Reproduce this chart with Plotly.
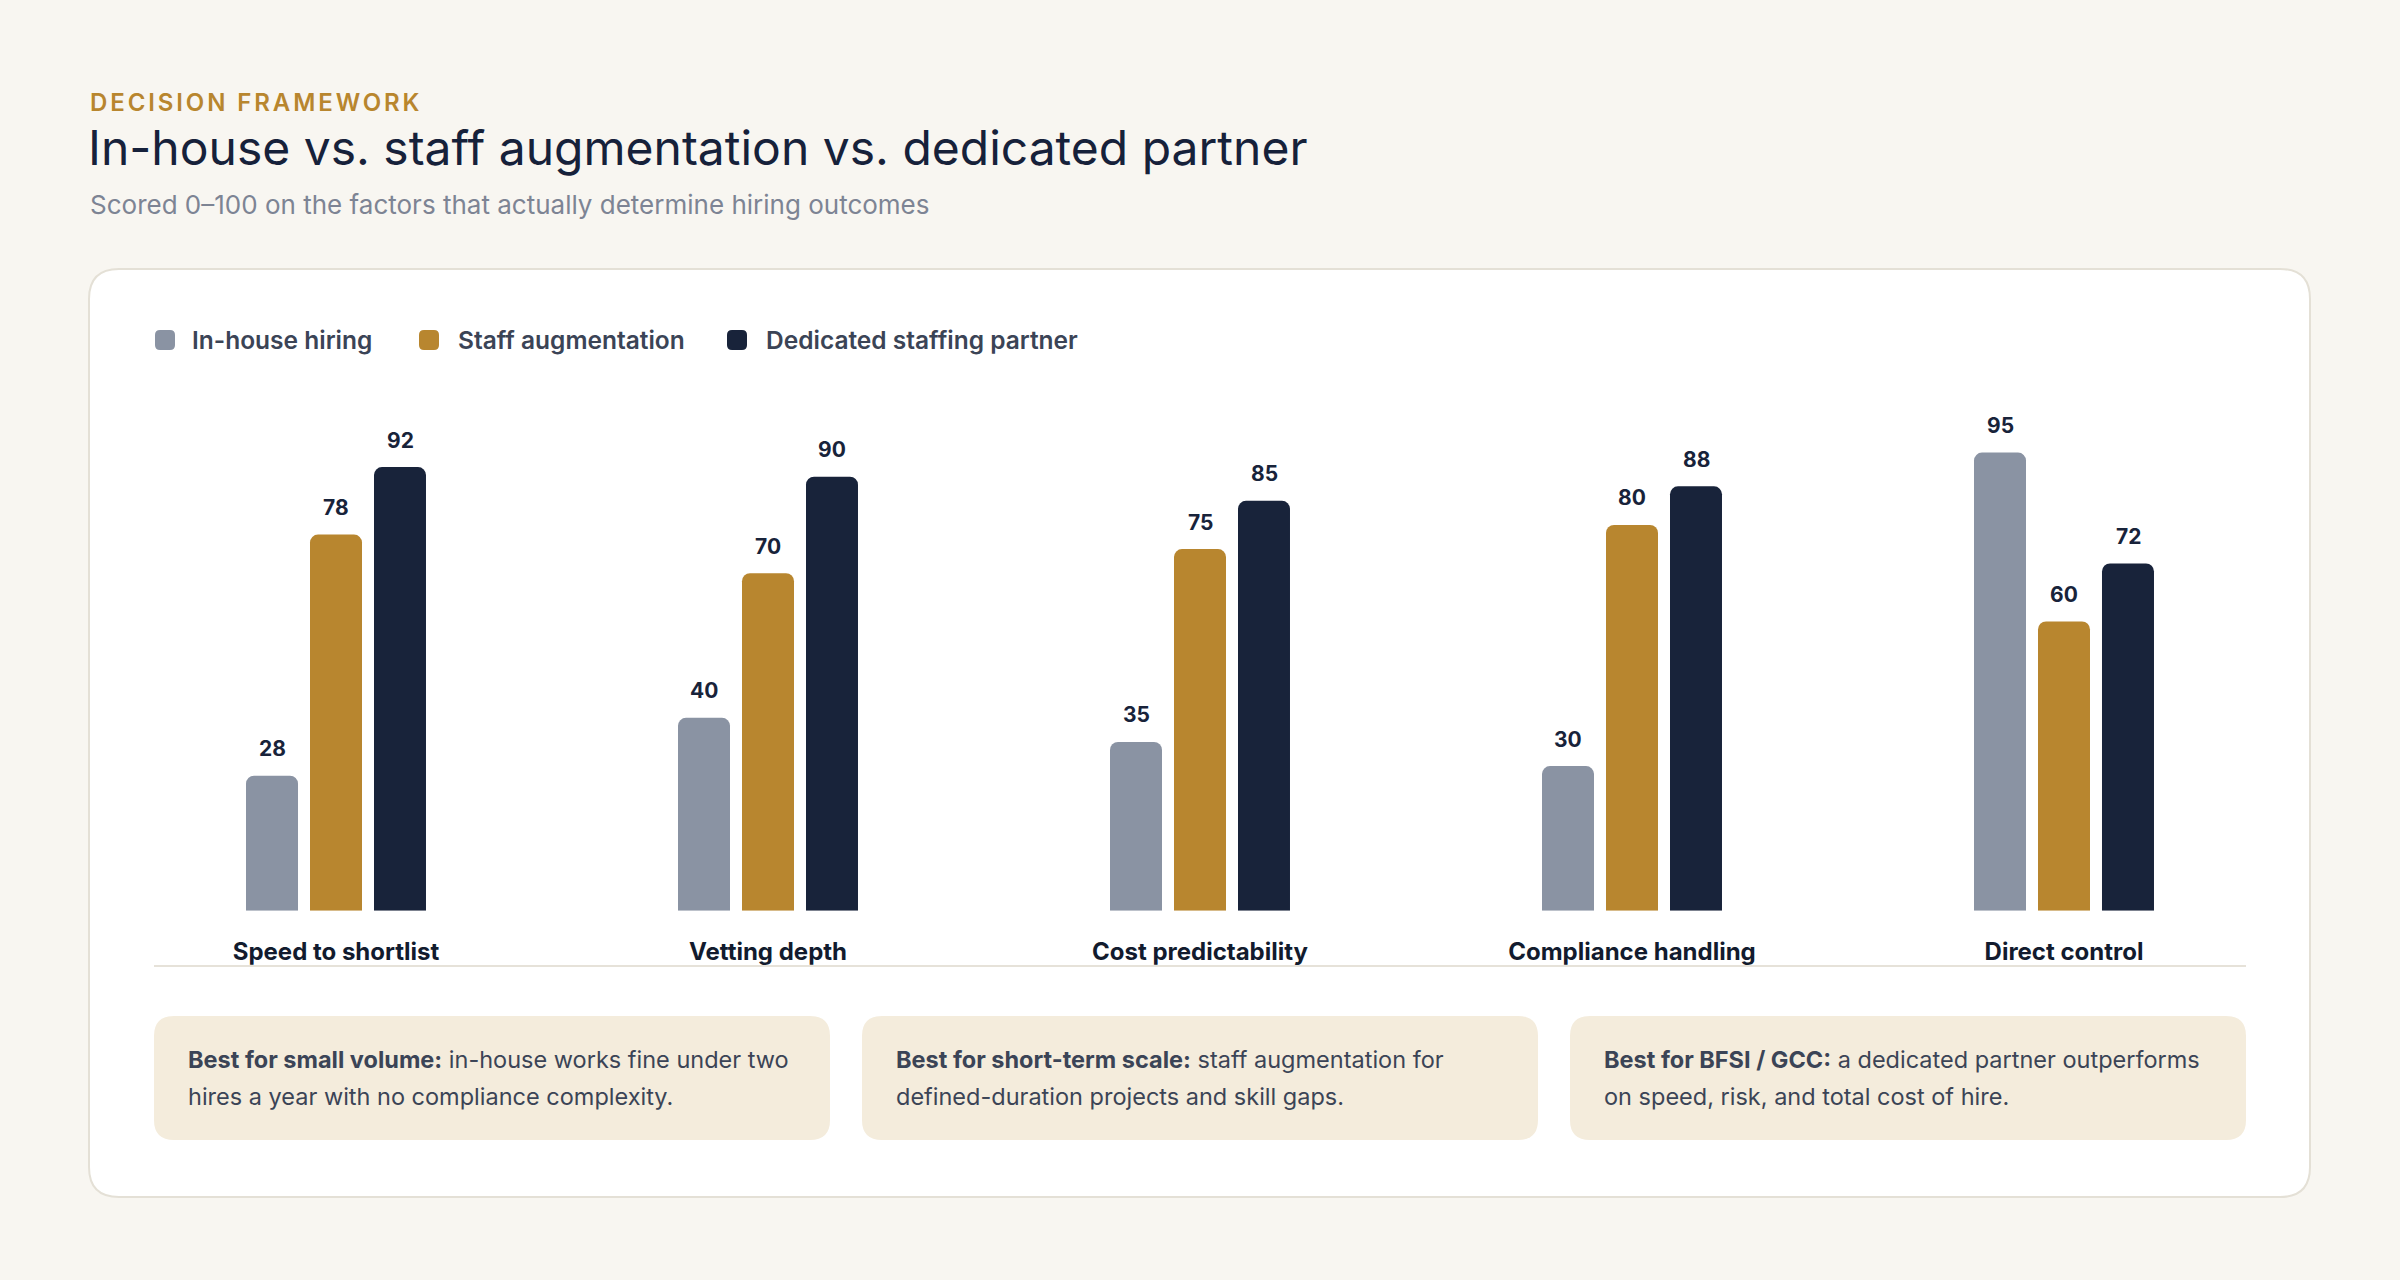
import plotly.graph_objects as go

W, H = 2400, 1280

# ---------------- data ----------------
categories = ["Speed to shortlist", "Vetting depth", "Cost predictability",
              "Compliance handling", "Direct control"]
series_names = ["In-house hiring", "Staff augmentation", "Dedicated staffing partner"]
in_house = [28, 40, 35, 30, 95]
staff_aug = [78, 70, 75, 80, 60]
dedicated = [92, 90, 85, 88, 72]
series_values = [in_house, staff_aug, dedicated]

eyebrow = "DECISION FRAMEWORK"
title = "In-house vs. staff augmentation vs. dedicated partner"
subtitle = "Scored 0–100 on the factors that actually determine hiring outcomes"

card_leads = ["Best for small volume:", "Best for short-term scale:", "Best for BFSI / GCC:"]
card_lines = [
    ["in-house works fine under two", "hires a year with no compliance complexity."],
    ["staff augmentation for", "defined-duration projects and skill gaps."],
    ["a dedicated partner outperforms", "on speed, risk, and total cost of hire."],
]

# ---------------- style ----------------
series_colors = ["#8A93A3", "#B8862F", "#18233A"]
BG = "#F8F6F1"
FONT = "Inter"
NAVY = "#16213A"
SLATE = "#3B4456"


def fx(x):
    return x / W


def fy(y):
    return 1 - y / H


def rrect(x0, y0, x1, y1, r):
    return (f"M{fx(x0 + r)},{fy(y0)} L{fx(x1 - r)},{fy(y0)} "
            f"Q{fx(x1)},{fy(y0)} {fx(x1)},{fy(y0 + r)} "
            f"L{fx(x1)},{fy(y1 - r)} Q{fx(x1)},{fy(y1)} {fx(x1 - r)},{fy(y1)} "
            f"L{fx(x0 + r)},{fy(y1)} Q{fx(x0)},{fy(y1)} {fx(x0)},{fy(y1 - r)} "
            f"L{fx(x0)},{fy(y0 + r)} Q{fx(x0)},{fy(y0)} {fx(x0 + r)},{fy(y0)} Z")


fig = go.Figure()
for name, vals, col in zip(series_names, series_values, series_colors):
    fig.add_trace(go.Bar(
        x=categories, y=vals, name=name,
        marker=dict(color=col, cornerradius=8, line=dict(width=0)),
        showlegend=False, hoverinfo="skip",
    ))

shapes = []
# outer white card
shapes.append(dict(type="path", xref="paper", yref="paper", layer="below",
                   path=rrect(89, 269, 2310, 1197, 30),
                   fillcolor="#FFFFFF", line=dict(color="#E4E0D6", width=2)))
# baseline rule under category labels
shapes.append(dict(type="line", xref="paper", yref="paper", layer="below",
                   x0=fx(154), x1=fx(2246), y0=fy(966), y1=fy(966),
                   line=dict(color="#E6E2D9", width=2)))

annotations = []
# header
annotations.append(dict(xref="paper", yref="paper", x=fx(88), y=fy(102), xanchor="left",
                        yanchor="middle", showarrow=False,
                        text=f'<span style="letter-spacing:2.9px">{eyebrow}</span>',
                        font=dict(family=FONT, size=24, color="#B8862E", weight=600)))
annotations.append(dict(xref="paper", yref="paper", x=fx(86), y=fy(147), xanchor="left",
                        yanchor="middle", showarrow=False, text=title,
                        font=dict(family=FONT, size=48, color=NAVY, weight=400)))
annotations.append(dict(xref="paper", yref="paper", x=fx(88), y=fy(204), xanchor="left",
                        yanchor="middle", showarrow=False, text=subtitle,
                        font=dict(family=FONT, size=26, color="#7D8494", weight=400)))

# legend (manual)
legend_sq_x = [155, 419, 727]
legend_tx_x = [190, 456, 764]
for name, col, sx, tx in zip(series_names, series_colors, legend_sq_x, legend_tx_x):
    shapes.append(dict(type="path", xref="paper", yref="paper",
                       path=rrect(sx, 330, sx + 20, 350, 5),
                       fillcolor=col, line=dict(width=0)))
    annotations.append(dict(xref="paper", yref="paper", x=fx(tx), y=fy(340),
                            xanchor="left", yanchor="middle", showarrow=False,
                            text=name,
                            font=dict(family=FONT, size=24.5, color=SLATE, weight=600)))

# value labels
for j, vals in enumerate(series_values):
    for cat, v in zip(categories, vals):
        annotations.append(dict(xref="x", yref="y", x=cat, y=v, xshift=(j - 1) * 64,
                                yshift=27, yanchor="middle", showarrow=False,
                                text=str(v),
                                font=dict(family=FONT, size=21, color="#18233A", weight=700)))

# bottom cards
card_w, card_gap = 676, 32
for i, (lead, lines) in enumerate(zip(card_leads, card_lines)):
    x0 = 154 + i * (card_w + card_gap)
    shapes.append(dict(type="path", xref="paper", yref="paper", layer="below",
                       path=rrect(x0, 1016, x0 + card_w, 1140, 20),
                       fillcolor="#F4ECDC", line=dict(width=0)))
    annotations.append(dict(xref="paper", yref="paper", x=fx(x0 + 32), y=fy(1059),
                            xanchor="left", yanchor="middle", showarrow=False,
                            text=f"<b>{lead}</b> {lines[0]}",
                            font=dict(family=FONT, size=23.5, color=SLATE)))
    annotations.append(dict(xref="paper", yref="paper", x=fx(x0 + 32), y=fy(1096),
                            xanchor="left", yanchor="middle", showarrow=False,
                            text=lines[1],
                            font=dict(family=FONT, size=23.5, color=SLATE)))

fig.update_layout(
    width=W, height=H,
    margin=dict(l=0, r=0, t=0, b=0),
    paper_bgcolor=BG, plot_bgcolor="rgba(0,0,0,0)",
    barmode="group", bargap=0.5556, bargroupgap=0.1875,
    showlegend=False,
    shapes=shapes, annotations=annotations,
    xaxis=dict(domain=[fx(154), fx(2246)], range=[-0.4213, 4.4213], type="category",
               showgrid=False, showline=False, zeroline=False, ticks="",
               ticklabelstandoff=24,
               tickfont=dict(family=FONT, size=24, color="#121B2E", weight=700),
               fixedrange=True),
    yaxis=dict(domain=[fy(910.7), fy(428.5)], range=[0, 100],
               showgrid=False, showline=False, zeroline=False,
               showticklabels=False, ticks="", fixedrange=True),
)

fig.write_html("out.html")
